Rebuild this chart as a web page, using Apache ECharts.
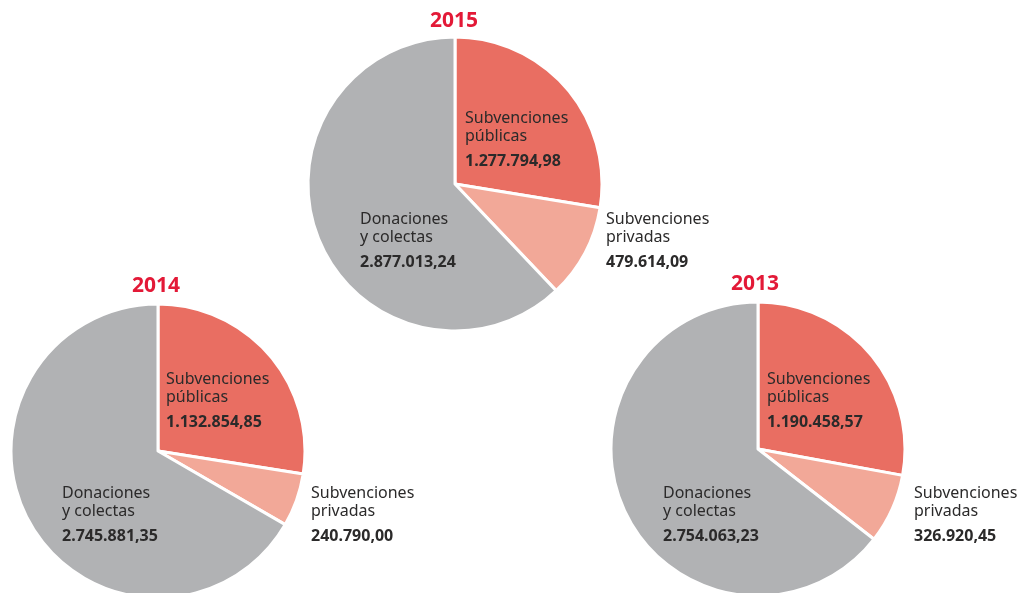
<!DOCTYPE html>
<html>
<head>
<meta charset="utf-8">
<script src="https://cdn.jsdelivr.net/npm/echarts@6/dist/echarts.min.js"></script>
<style>
  html, body { margin: 0; padding: 0; background: #fff; }
  #chart { width: 1026px; height: 593px; }
</style>
</head>
<body>
<div id="chart"></div>
<script>
// datos por año
const years = ["2015", "2014", "2013"];
const categories = ["Subvenciones públicas", "Subvenciones privadas", "Donaciones y colectas"];
const publicas = [1277794.98, 1132854.85, 1190458.57];
const privadas = [479614.09, 240790.0, 326920.45];
const donaciones = [2877013.24, 2745881.35, 2754063.23];

const colors = ["#e96e62", "#f2a898", "#b1b2b4"];

// posición de cada tarta
const centers = [[455, 184], [158, 451], [758, 449]];
const radius = 147;

// formato español: 1.277.794,98
const fmt = (v) => {
  const parts = v.toFixed(2).split(".");
  return parts[0].replace(/\B(?=(\d{3})+(?!\d))/g, ".") + "," + parts[1];
};

const myChart = echarts.init(document.getElementById("chart"));

const series = years.map((y, i) => ({
  type: "pie",
  center: centers[i],
  radius: radius,
  startAngle: 90,
  clockwise: true,
  silent: true,
  z: 1,
  label: { show: false },
  labelLine: { show: false },
  itemStyle: { borderColor: "#fff", borderWidth: 3 },
  data: [
    { name: categories[0], value: publicas[i], itemStyle: { color: colors[0] } },
    { name: categories[1], value: privadas[i], itemStyle: { color: colors[1] } },
    { name: categories[2], value: donaciones[i], itemStyle: { color: colors[2] } },
  ],
}));

// etiqueta de dos líneas + valor en negrita
const makeLabel = (x, y, name, value) => ({
  type: "text",
  left: x,
  top: y,
  z: 100,
  style: {
    text: "{n|" + name + "}\n{v|" + fmt(value) + "}",
    rich: {
      n: { fontFamily: "Noto Sans", fontSize: 16, lineHeight: 18, fill: "#2b2a2a" },
      v: { fontFamily: "Noto Sans", fontSize: 16, fontWeight: "bold", lineHeight: 32, fill: "#2b2a2a" },
    },
  },
});

const labelPos = [
  { pub: [465, 110], pri: [606, 211], don: [360, 211] },
  { pub: [166, 371], pri: [311, 485], don: [62, 485] },
  { pub: [767, 371], pri: [914, 485], don: [663, 485] },
];
const titlePos = [[455, 11], [157, 276], [756, 274]];

const graphic = [];
years.forEach((y, i) => {
  graphic.push({
    type: "text",
    left: titlePos[i][0] - 25,
    top: titlePos[i][1],
    z: 100,
    style: { text: y, fontFamily: "Noto Sans", fontSize: 21, fontWeight: "bold", fill: "#e31937" },
  });
  graphic.push(makeLabel(labelPos[i].pub[0], labelPos[i].pub[1], "Subvenciones\npúblicas", publicas[i]));
  graphic.push(makeLabel(labelPos[i].pri[0], labelPos[i].pri[1], "Subvenciones\nprivadas", privadas[i]));
  graphic.push(makeLabel(labelPos[i].don[0], labelPos[i].don[1], "Donaciones\ny colectas", donaciones[i]));
});

myChart.setOption({
  animation: false,
  series: series,
  graphic: graphic,
});
</script>
</body>
</html>
